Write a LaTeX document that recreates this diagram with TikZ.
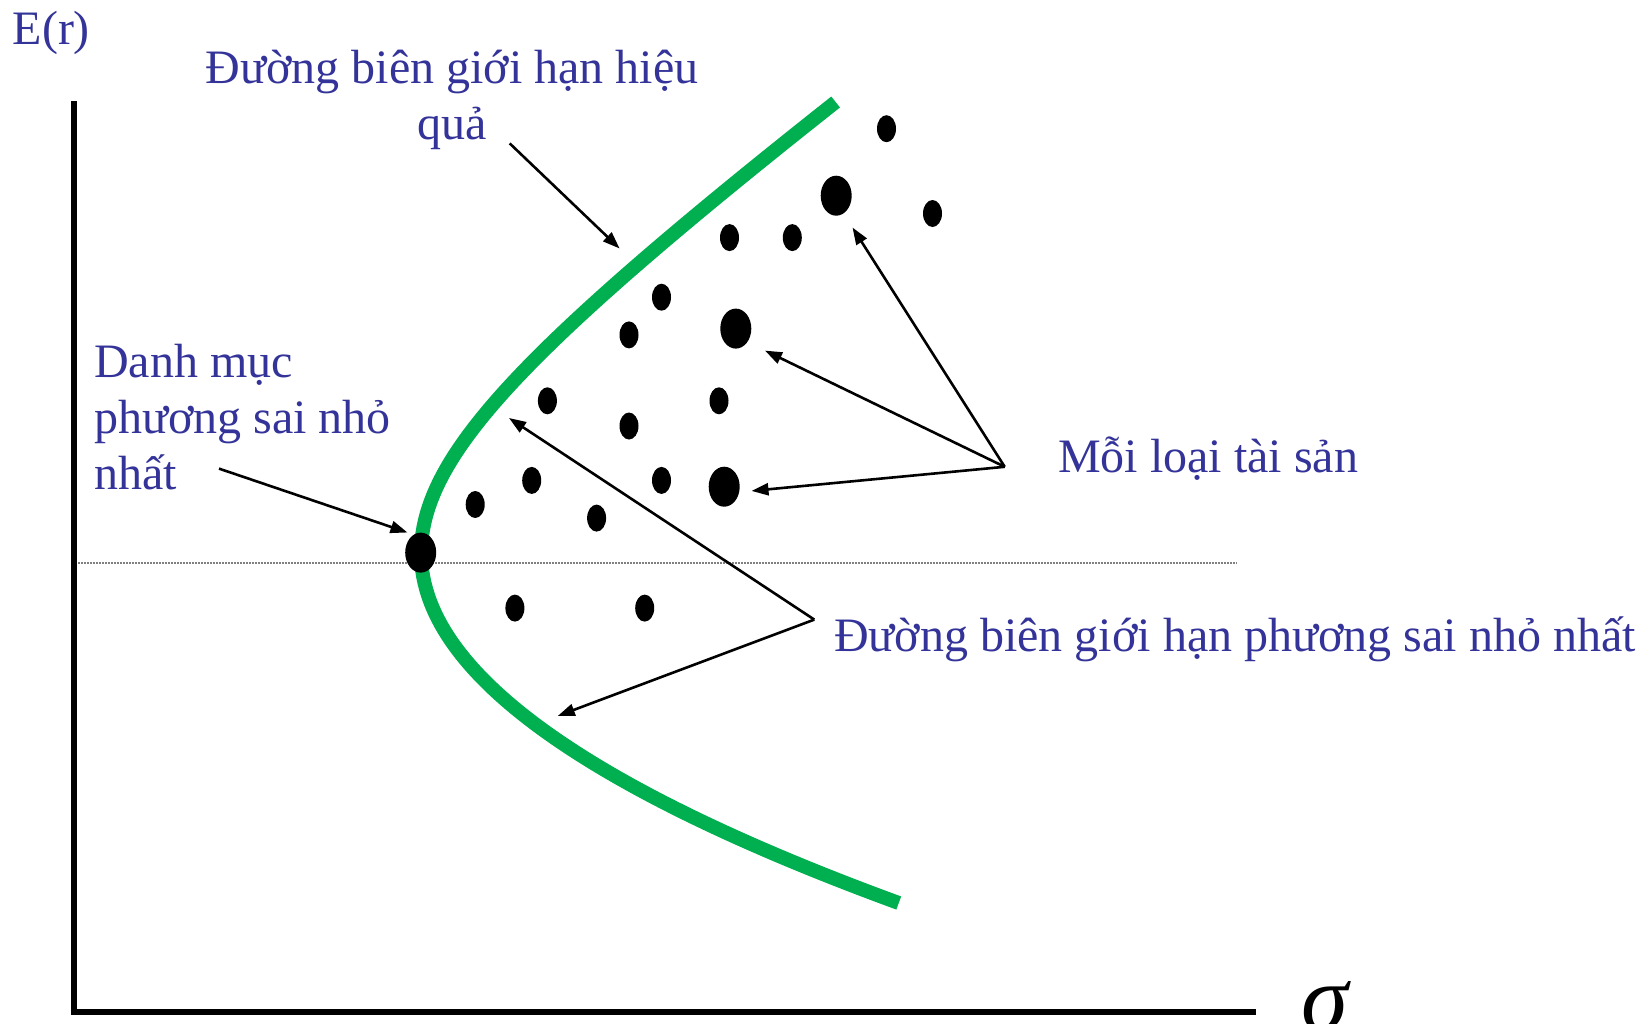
\documentclass[tikz,border=0pt]{standalone}
\usepackage{fontspec}
\setmainfont{Liberation Serif}
\usetikzlibrary{arrows.meta,shapes.geometric}
\definecolor{txtblue}{RGB}{51,51,153}
\definecolor{frontgreen}{RGB}{0,176,80}
\begin{document}
\begin{tikzpicture}[x=1pt,y=-1pt,
  lbl/.style={text=txtblue, font=\fontsize{48}{56}\selectfont, inner sep=0pt},
  sdot/.style={ellipse, fill=black, minimum width=19pt, minimum height=27pt, inner sep=0pt},
  bdot/.style={ellipse, fill=black, minimum width=31pt, minimum height=40pt, inner sep=0pt},
  ptr/.style={line width=2.6pt, -{Triangle[length=17pt,width=12pt]}},
  axisline/.style={line width=6pt, line join=miter},
  guide/.style={line width=1.2pt, gray, dash pattern=on 1.5pt off 1.5pt},
  frontier/.style={line width=14pt, frontgreen, line join=round}]
\useasboundingbox (0,0) rectangle (1641,1023);

% axes
\coordinate (ytop) at (74,101);
\coordinate (orig) at (74,1012);
\coordinate (xend) at (1256,1012);
\draw[axisline] (ytop) -- (orig) -- (xend);

% dotted guide
\coordinate (gl) at (78,563);
\coordinate (gr) at (1237,563);
\draw[guide] (gl) -- (gr);

% frontier: upper hyperbola branch, lower parabola-like branch
\draw[frontier]
  plot[domain=102:553, samples=70, variable=\t]
    ({171+250*sqrt(1+1.8645*((553-\t)/250)^2)}, \t)
  -- plot[domain=553:903, samples=60, variable=\t]
    ({421+39*((\t-553)/100)^2}, \t);

% assets
\node[sdot] (d1) at (886.5,128.7) {};
\node[sdot] (d2) at (932.5,213.5) {};
\node[sdot] (d3) at (729.5,237.6) {};
\node[sdot] (d4) at (792.3,237.6) {};
\node[sdot] (d5) at (661.5,297.2) {};
\node[sdot] (d6) at (629,334.9) {};
\node[sdot] (d7) at (547.4,400.8) {};
\node[sdot] (d8) at (629,426) {};
\node[sdot] (d9) at (719,400.8) {};
\node[sdot] (d10) at (531.7,480.4) {};
\node[sdot] (d11) at (661.5,480.4) {};
\node[sdot] (d12) at (475.2,504.5) {};
\node[sdot] (d13) at (596.6,518.1) {};
\node[sdot] (d14) at (514.9,608.1) {};
\node[sdot] (d15) at (644.7,608.1) {};
\node[bdot] (b1) at (836.2,195.7) {};
\node[bdot] (b2) at (735.8,328.6) {};
\node[bdot] (b3) at (724.2,486.7) {};
\node[bdot] (gmvp) at (420.7,552.6) {};

% labels
\node[lbl, anchor=base west] (er) at (12.5,44) {E(r)};
\node[lbl, anchor=base, align=center] (eff) at (452,139) {Đường biên giới hạn hiệu\\quả};
\node[lbl, anchor=base west, align=left] (gmv) at (94,489) {Danh mục\\phương sai nhỏ\\nhất};
\node[lbl, anchor=base west] (asset) at (1058,472) {Mỗi loại tài sản};
\node[lbl, anchor=base west] (mvf) at (834,651) {Đường biên giới hạn phương sai nhỏ nhất};
\node[inner sep=0pt, anchor=base west, font=\fontsize{95}{100}\selectfont\itshape] (sig) at (1301,1030) {σ};

% arrows
\coordinate (effs) at (509.7,143.4);
\coordinate (efft) at (619.6,248.5);
\draw[ptr] (effs) -- (efft);

\coordinate (gmvs) at (219,468.6);
\coordinate (gmvt) at (407.5,532.5);
\draw[ptr] (gmvs) -- (gmvt);

\coordinate (hub) at (1004.7,466.8);
\coordinate (t1) at (852.5,227.5);
\coordinate (t2) at (765,350.6);
\coordinate (t3) at (751.5,490.9);
\draw[ptr] (hub) -- (t1);
\draw[ptr] (hub) -- (t2);
\draw[ptr] (hub) -- (t3);

\coordinate (hub2) at (814.3,619.6);
\coordinate (u1) at (509,418);
\coordinate (u2) at (557.8,715.9);
\draw[ptr] (hub2) -- (u1);
\draw[ptr] (hub2) -- (u2);
\end{tikzpicture}
\end{document}
